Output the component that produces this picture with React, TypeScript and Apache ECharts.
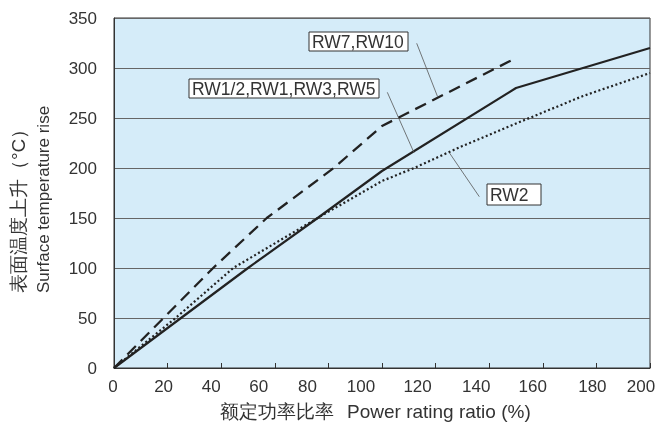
import React, { useEffect, useRef } from "react";
import * as echarts from "echarts";

const xMin = 0;
const xMax = 200;
const xInterval = 20;
const yMin = 0;
const yMax = 350;
const yInterval = 50;

// RW1/2, RW1, RW3, RW5 (solid)
const seriesSolid: [number, number][] = [
  [0, 0], [25, 50], [50, 100], [76, 150], [100, 197], [150, 280], [200, 320],
];
// RW7, RW10 (dashed)
const seriesDashed: [number, number][] = [
  [0, 0], [18.5, 50], [37, 100], [57, 150], [82, 200], [100, 242], [150, 310],
];
// RW2 (dotted)
const seriesDotted: [number, number][] = [
  [0, 0], [23, 50], [44.5, 100], [76, 150], [100, 187], [112, 200], [130, 222],
  [155, 250], [175, 272], [200, 295],
];

const labelTexts = ["RW7,RW10", "RW1/2,RW1,RW3,RW5", "RW2"];
const xAxisTitleCn = "额定功率比率";
const xAxisTitleEn = "Power rating ratio (%)";
const yAxisTitleCn = "表面温度上升（°C）";
const yAxisTitleEn = "Surface temperature rise";

// horizontal shift (px) of each x tick label relative to its tick, as in the reference
const xLabelShift = [-1, -4, -10, -16, -21, -21, -18, -13, -10, -4, -9];

const FONT = "'Liberation Sans', Arial, sans-serif";
const TXT = "#333";

export default function App() {
  const ref = useRef<HTMLDivElement>(null);
  useEffect(() => {
    if (!ref.current) return;
    const chart = echarts.init(ref.current, undefined, { renderer: "svg" });
    const lineColor = "#222";
    const boxes = [
      { x: 309, y: 32, w: 99, h: 19, text: labelTexts[0] },
      { x: 189, y: 79, w: 190, h: 19, text: labelTexts[1] },
      { x: 487, y: 184, w: 54, h: 21, text: labelTexts[2] },
    ];
    const leaders = [
      [416.7, 43.3, 437.5, 96.5],
      [387.3, 92.3, 414, 152.7],
      [479.3, 196.7, 449.3, 152.7],
    ];
    const graphic: any[] = [];
    leaders.forEach((l) => {
      graphic.push({
        type: "line",
        shape: { x1: l[0], y1: l[1], x2: l[2], y2: l[3] },
        style: { stroke: "#555", lineWidth: 0.8 },
        z: 100,
      });
    });
    boxes.forEach((b) => {
      graphic.push({
        type: "rect",
        shape: { x: b.x, y: b.y, width: b.w, height: b.h },
        style: { fill: "#fff", stroke: "#333", lineWidth: 1 },
        z: 101,
      });
      graphic.push({
        type: "text",
        x: b.x + 3,
        y: b.y + b.h / 2 + 0.5,
        style: {
          text: b.text,
          fill: TXT,
          font: `17.5px ${FONT}`,
          textAlign: "left",
          textVerticalAlign: "middle",
        },
        z: 102,
      });
    });
    graphic.push({
      type: "text",
      x: 220,
      y: 411,
      style: {
        text: xAxisTitleCn,
        fill: TXT,
        font: `19px ${FONT}`,
        textAlign: "left",
        textVerticalAlign: "middle",
      },
    });
    graphic.push({
      type: "text",
      x: 347,
      y: 411,
      style: {
        text: xAxisTitleEn,
        fill: TXT,
        font: `19px ${FONT}`,
        textAlign: "left",
        textVerticalAlign: "middle",
      },
    });
    graphic.push({
      type: "text",
      x: 18,
      y: 293,
      rotation: Math.PI / 2,
      style: {
        text: yAxisTitleCn,
        fill: TXT,
        font: `19px ${FONT}`,
        textAlign: "left",
        textVerticalAlign: "middle",
      },
    });
    graphic.push({
      type: "text",
      x: 43,
      y: 293,
      rotation: Math.PI / 2,
      style: {
        text: yAxisTitleEn,
        fill: TXT,
        font: `17px ${FONT}`,
        textAlign: "left",
        textVerticalAlign: "middle",
      },
    });

    const rich: Record<string, any> = {};
    xLabelShift.forEach((d, i) => {
      rich["o" + i] = {
        fontSize: 17,
        fontFamily: FONT,
        color: TXT,
        padding: d < 0 ? [0, -2 * d, 0, 0] : [0, 0, 0, 2 * d],
      };
    });

    chart.setOption({
      animation: false,
      grid: {
        left: 114,
        right: 10,
        top: 18,
        bottom: 57,
        show: true,
        backgroundColor: "#d5ecf9",
        borderColor: "#333",
        borderWidth: 1,
      },
      xAxis: {
        type: "value",
        min: xMin,
        max: xMax,
        interval: xInterval,
        axisLine: { show: true, lineStyle: { color: "#333", width: 1 } },
        axisTick: { show: true, inside: true, length: 5, lineStyle: { color: "#333" } },
        splitLine: { show: false },
        axisLabel: {
          color: TXT,
          fontSize: 17,
          fontFamily: FONT,
          margin: 10,
          formatter: (v: number, i: number) => `{o${i}|${v}}`,
          rich,
        },
      },
      yAxis: {
        type: "value",
        min: yMin,
        max: yMax,
        interval: yInterval,
        axisLine: { show: true, lineStyle: { color: "#333", width: 1 } },
        axisTick: { show: false },
        splitLine: { show: true, lineStyle: { color: "#666", width: 1.2 } },
        axisLabel: { color: TXT, fontSize: 17, fontFamily: FONT, margin: 17 },
      },
      series: [
        {
          type: "line",
          data: seriesSolid,
          showSymbol: false,
          lineStyle: { color: lineColor, width: 2.2, type: "solid" },
          z: 3,
        },
        {
          type: "line",
          data: seriesDashed,
          showSymbol: false,
          lineStyle: { color: lineColor, width: 2.3, type: [12, 7] },
          z: 3,
        },
        {
          type: "line",
          data: seriesDotted,
          showSymbol: false,
          lineStyle: { color: lineColor, width: 2.2, type: [2, 2.5] },
          z: 3,
        },
      ],
      graphic,
    });
    return () => chart.dispose();
  }, []);
  return (
    <div
      ref={ref}
      style={{ position: "fixed", left: 0, top: 0, width: 660, height: 425 }}
    />
  );
}
